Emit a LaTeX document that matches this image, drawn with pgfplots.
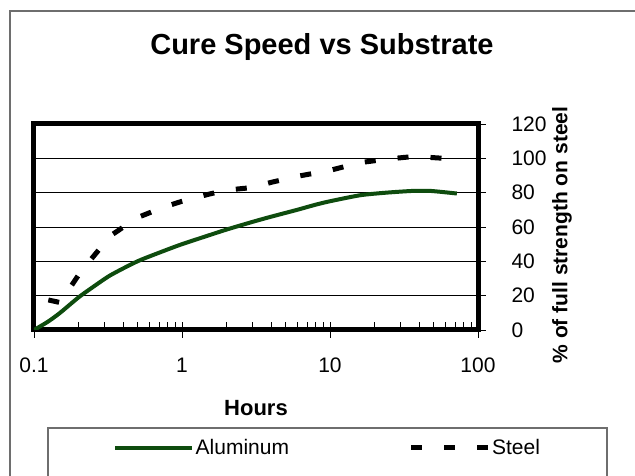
\documentclass[border=0pt]{standalone}
\usepackage{pgfplots}
\pgfplotsset{compat=1.18}
\usepackage{fontspec}
\setmainfont{Liberation Sans}
\definecolor{algreen}{RGB}{14,76,14}
\definecolor{framegray}{RGB}{110,110,110}
\begin{document}
\begin{tikzpicture}
\clip (0pt,0pt) rectangle (635pt,476pt);
\fill[white] (0pt,0pt) rectangle (635pt,476pt);
\draw[framegray, line width=1.2pt] (10pt,-30pt) rectangle (680pt,465pt);
\draw[framegray, line width=1.2pt] (48pt,-30pt) rectangle (607pt,48pt);
\begin{axis}[
  at={(34pt,146pt)}, anchor=south west,
  scale only axis, width=444pt, height=206pt,
  xmode=log, xmin=0.1, xmax=100, ymin=0, ymax=120,
  xtick={0.1,1,10,100}, xticklabels={0.1,1,10,100},
  ytick={0,20,40,60,80,100,120},
  xtick pos=left, ytick pos=right, yticklabel pos=right,
  tick align=outside,
  major tick length=8pt, minor tick length=5pt,
  minor tick style={yshift=7.5pt, line width=0.7pt, black},
  major tick style={line width=0.7pt, black},
  axis line style={line width=5pt},
  ymajorgrids, grid style={black, line width=0.8pt},
  /pgf/number format/assume math mode=true,
  tick label style={font=\fontsize{21}{25}\selectfont},
  yticklabel style={anchor=west},
  yticklabel shift={22pt},
  xticklabel style={anchor=center, yshift=-27pt},
  every axis title/.style={at={(axis description cs:0.6486,1.3738)}, anchor=center, font=\fontsize{29}{34}\selectfont\bfseries},
  title={Cure Speed vs Substrate},
  every axis x label/.style={at={(axis description cs:0.5,-0.3786)}, anchor=center, font=\fontsize{22}{26}\selectfont\bfseries},
  xlabel={Hours},
  every axis y label/.style={at={(axis description cs:1.189,0.461)}, rotate=90, anchor=center, font=\fontsize{21}{25}\selectfont\bfseries},
  ylabel={\% of full strength on steel},
  legend style={draw=none, fill=none, at={(axis description cs:0.178,-0.5728)}, anchor=west,
    inner sep=0pt, nodes={inner sep=1.5pt}, font=\fontsize{21}{25}\selectfont,
    /tikz/every even column/.append style={column sep=118pt}},
  legend columns=2,
  legend image code/.code={\draw[#1] (0pt,0pt) -- (77pt,0pt);},
]
\addplot[algreen, line width=4pt, smooth, tension=0.4] coordinates {
(0.1,0) (0.125,5) (0.15,10) (0.2,19) (0.25,25) (0.33,32) (0.5,40) (0.75,46)
(1,50) (1.5,55) (2,58.5) (3,63) (4,66) (6,70) (8,73) (10,75) (16,78.5)
(24,80) (36,81) (48,81) (72,79.5)};
\addlegendentry{Aluminum}
\addplot[black, line width=5pt, dash pattern=on 11pt off 22pt] coordinates {
(0.125,17.5) (0.15,16) (0.2,32) (0.25,42.5) (0.33,55) (0.5,65.5) (0.75,71.5)
(1,75) (1.5,79) (2,81.5) (3,83) (4,86) (6,89.5) (10,93) (16,97.5)
(24,99.5) (36,101) (48,100.5) (72,99.5)};
\addlegendentry{Steel}
\end{axis}
\end{tikzpicture}
\end{document}
